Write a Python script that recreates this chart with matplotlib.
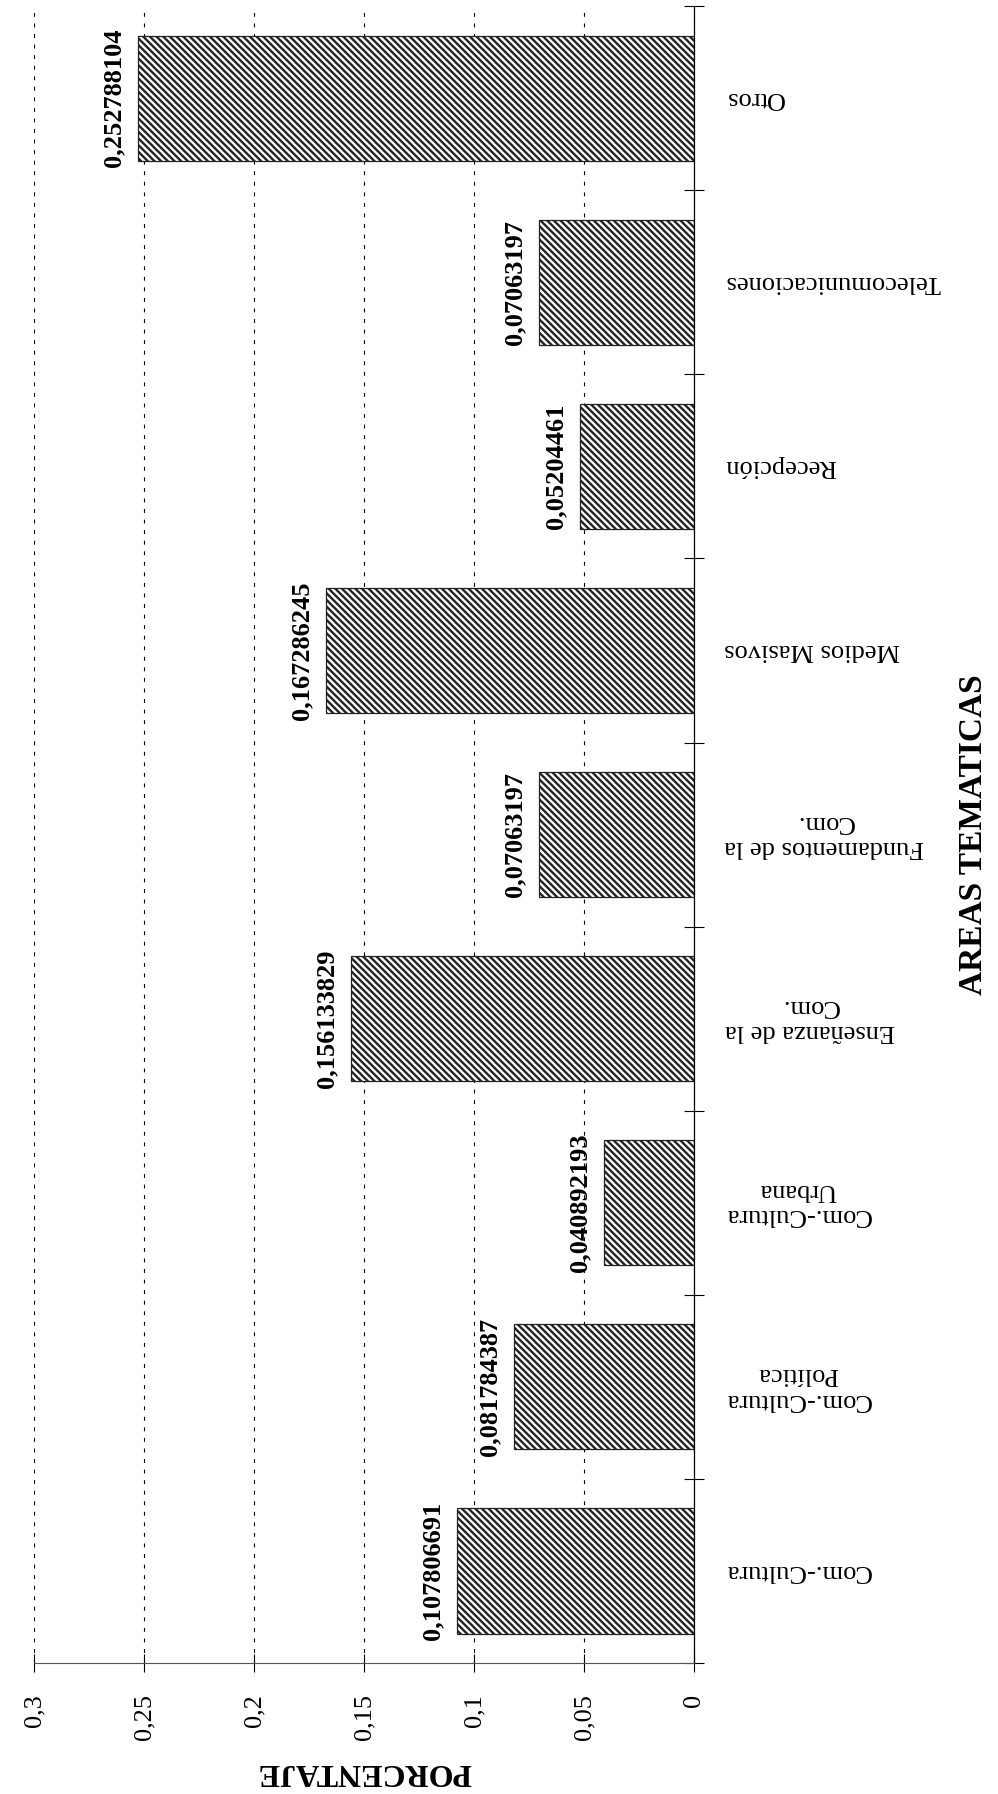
import matplotlib
matplotlib.use("Agg")
import matplotlib.pyplot as plt

# Datos: porcentaje de trabajos por area tematica
CATEGORIES = [
    "Com.-Cultura",
    "Com.-Cultura\nPolítica",
    "Com.-Cultura\nUrbana",
    "Enseñanza de la\nCom.",
    "Fundamentos de la\nCom.",
    "Medios Masivos",
    "Recepción",
    "Telecomunicaciones",
    "Otros",
]
VALUES = [0.107806691, 0.081784387, 0.040892193, 0.156133829, 0.07063197,
          0.167286245, 0.05204461, 0.07063197, 0.252788104]
X_TICKS = [0, 0.05, 0.1, 0.15, 0.2, 0.25, 0.3]
X_TICK_LABELS = ["0", "0,05", "0,1", "0,15", "0,2", "0,25", "0,3"]
X_TITLE = "PORCENTAJE"
Y_TITLE = "AREAS TEMATICAS"


def draw_chart(output: str = "out.png") -> None:
    """Draw the (scanned, rotated) bar chart and save it."""
    plt.rcParams["font.family"] = ["Liberation Serif", "DejaVu Serif"]
    plt.rcParams["hatch.linewidth"] = 1.7

    fig = plt.figure(figsize=(9.98, 17.94), dpi=100)
    ax = fig.add_axes([0.0341, 0.0730, 0.6613, 0.9236])

    pos = list(range(len(CATEGORIES)))
    ax.barh(pos, VALUES, height=0.68, color="white", edgecolor="#222222",
            linewidth=0.9, hatch="\\\\\\\\\\", zorder=2)

    ax.set_xlim(0.3, 0)
    ax.set_ylim(-0.5, len(CATEGORIES) - 0.5)
    ax.set_axisbelow(True)

    # dashed grid at every 0.05
    ax.set_xticks(X_TICKS)
    ax.set_xticklabels(X_TICK_LABELS)
    ax.xaxis.grid(True, linestyle=(0, (3.5, 6)), color="black", linewidth=0.8)
    ax.tick_params(axis="x", direction="inout", length=13, width=0.8,
                   pad=16, labelsize=19, labelrotation=90)

    # categories on the right, upside down
    ax.yaxis.tick_right()
    ax.set_yticks(pos)
    ax.set_yticklabels(CATEGORIES, rotation=180, fontsize=19, va="center",
                       ha="left", multialignment="center")
    ax.set_yticks([p - 0.5 for p in range(len(CATEGORIES) + 1)], minor=True)
    ax.tick_params(axis="y", which="major", length=0, pad=22)
    ax.tick_params(axis="y", which="minor", direction="inout", length=14,
                   width=0.8, right=True, left=False)

    for side in ("top", "left"):
        ax.spines[side].set_visible(False)
    ax.spines["right"].set_linewidth(0.9)
    ax.spines["bottom"].set_linewidth(0.8)
    ax.spines["bottom"].set_color("#555555")

    # value labels above each bar end
    for p, v in zip(pos, VALUES):
        ax.annotate(str(v).replace(".", ","), xy=(v, p), xytext=(-9, 0),
                    textcoords="offset points", rotation=90, ha="right",
                    va="center", fontweight="bold", fontsize=19)

    ax.set_xlabel(X_TITLE, rotation=180, fontweight="bold", fontsize=23)
    ax.xaxis.set_label_coords(0.5, -0.0655)
    ax.xaxis.label.set_va("center")

    ax.yaxis.set_label_position("right")
    ax.set_ylabel(Y_TITLE, rotation=90, fontweight="bold", fontsize=24)
    ax.yaxis.set_label_coords(1.424, 0.5)
    ax.yaxis.label.set_va("center")
    ax.yaxis.label.set_ha("center")

    fig.savefig(output, dpi=100)


if __name__ == "__main__":
    draw_chart()
